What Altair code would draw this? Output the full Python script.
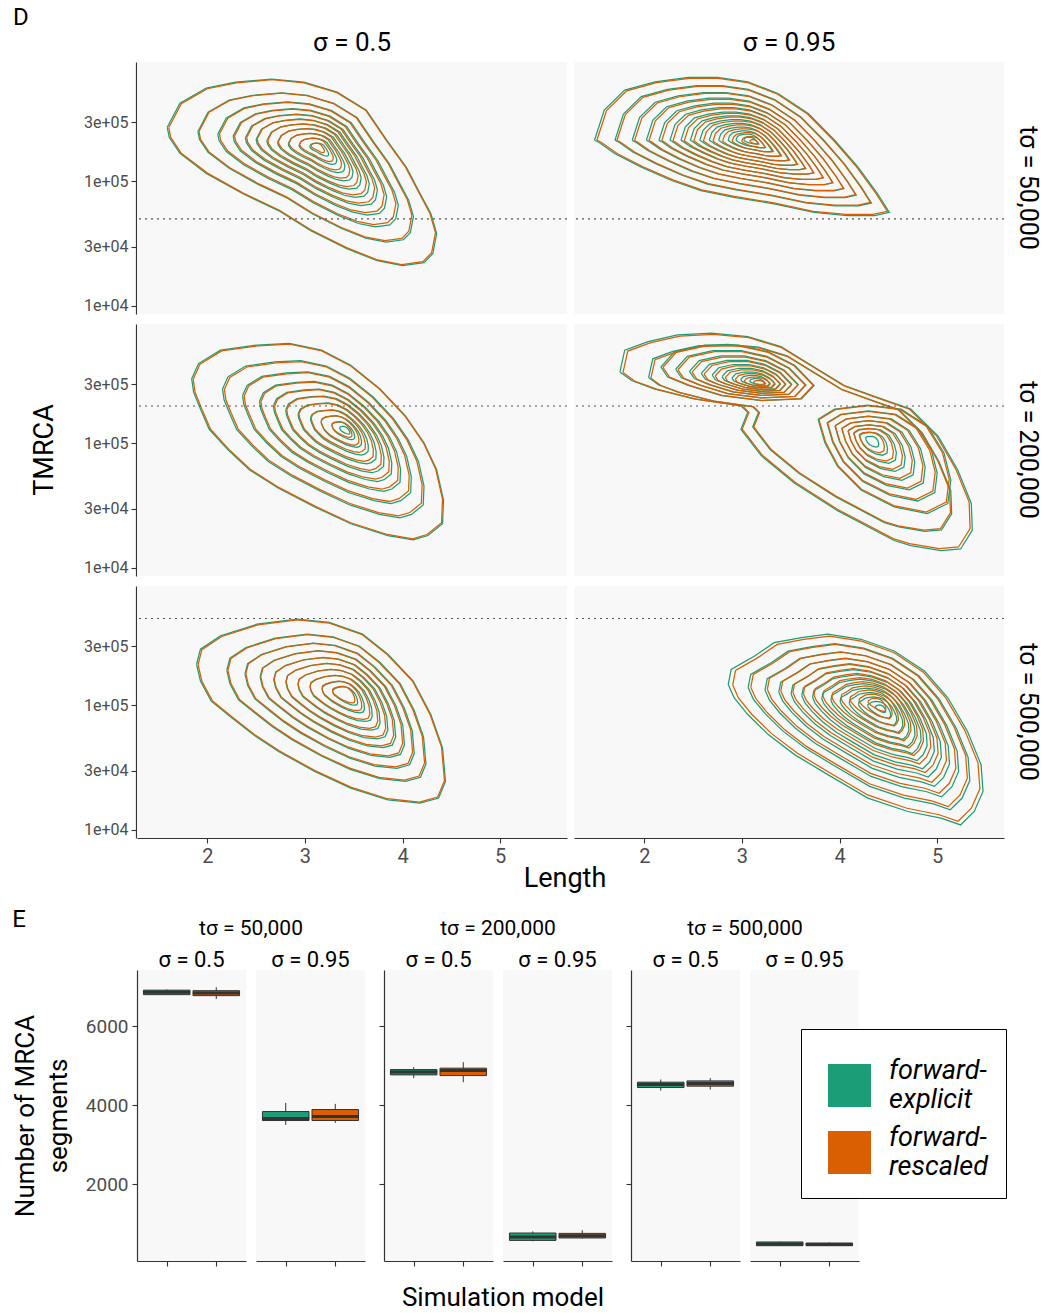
import altair as alt
import pandas as pd

SERIES = ["forward-explicit", "forward-rescaled"]
COLORS = ["#1b9e77", "#d95f02"]
SIGMAS = ["σ = 0.5", "σ = 0.95"]
TSIGS = ["tσ = 50,000", "tσ = 200,000", "tσ = 500,000"]
T_SPLIT = [50000, 200000, 500000]

# ---- contour outlines: x = Length, L = log10(T_MRCA)
TL_X = [1.59, 1.72, 1.99, 2.29, 2.66, 2.99, 3.33, 3.63, 3.84, 4.04, 4.18, 4.29, 4.35, 4.31, 4.22, 4.00, 3.74, 3.43, 3.06, 2.73, 2.36, 1.99, 1.72, 1.61]
TL_L = [5.435, 5.629, 5.750, 5.798, 5.823, 5.798, 5.718, 5.573, 5.331, 5.113, 4.903, 4.742, 4.581, 4.419, 4.347, 4.323, 4.363, 4.460, 4.605, 4.766, 4.903, 5.065, 5.226, 5.355]
TL_PEAK_E = [3.16, 5.27]
TL_PEAK_R = [3.14, 5.28]
TL_LEV_E = [1.0, 0.80, 0.67, 0.57, 0.49, 0.42, 0.35, 0.28, 0.21, 0.14, 0.07]
TL_LEV_R = [0.99, 0.79, 0.655, 0.555, 0.475, 0.405, 0.335, 0.265, 0.195, 0.125, 0.05]

TR_X = [1.49, 1.59, 1.80, 2.11, 2.45, 2.75, 3.06, 3.37, 3.68, 3.95, 4.19, 4.39, 4.51, 4.36, 4.08, 3.74, 3.33, 2.92, 2.58, 2.28, 1.97, 1.70, 1.53]
TR_L = [5.331, 5.573, 5.734, 5.801, 5.836, 5.836, 5.801, 5.707, 5.546, 5.331, 5.115, 4.900, 4.752, 4.726, 4.726, 4.752, 4.820, 4.873, 4.927, 5.008, 5.115, 5.223, 5.317]
TR_PEAK_E = [3.10, 5.33]
TR_PEAK_R = [3.13, 5.32]
TR_LEV_E = [1.0, 0.87, 0.76, 0.67, 0.59, 0.52, 0.45, 0.39, 0.33, 0.27, 0.21, 0.15, 0.10, 0.05]
TR_LEV_R = [0.985, 0.86, 0.75, 0.66, 0.58, 0.51, 0.44, 0.38, 0.32, 0.26, 0.20, 0.14, 0.08, 0.03]

ML_X = [1.84, 1.91, 2.135, 2.51, 2.84, 3.17, 3.47, 3.77, 4.03, 4.22, 4.35, 4.42, 4.41, 4.26, 4.11, 3.85, 3.47, 3.10, 2.73, 2.43, 2.21, 2.02, 1.93, 1.86]
ML_L = [5.520, 5.642, 5.750, 5.791, 5.805, 5.750, 5.628, 5.439, 5.222, 5.006, 4.789, 4.545, 4.355, 4.260, 4.225, 4.260, 4.355, 4.490, 4.640, 4.789, 4.951, 5.114, 5.276, 5.412]
ML_PEAK_E = [3.42, 5.11]
ML_PEAK_R = [3.40, 5.12]
ML_LEV_E = [1.0, 0.80, 0.67, 0.56, 0.47, 0.39, 0.31, 0.23, 0.16, 0.09, 0.04]
ML_LEV_R = [0.99, 0.785, 0.655, 0.545, 0.455, 0.375, 0.295, 0.215, 0.15, 0.08]

MR_X = [1.75, 1.80, 2.04, 2.34, 2.69, 3.06, 3.40, 3.71, 4.05, 4.43, 4.73, 5.01, 5.21, 5.35, 5.36, 5.24, 5.04, 4.73, 4.56, 3.98, 3.54, 3.20, 2.99, 3.06, 2.99, 2.51, 2.10, 1.87]
MR_L = [5.575, 5.750, 5.819, 5.872, 5.886, 5.859, 5.778, 5.628, 5.466, 5.358, 5.276, 5.059, 4.789, 4.518, 4.301, 4.152, 4.138, 4.179, 4.220, 4.460, 4.680, 4.900, 5.114, 5.250, 5.303, 5.358, 5.439, 5.506]
MR_MID_E = [3.85, 5.25]
MR_MID_R = [3.87, 5.24]
MR_LEV_E = [1.0, 0.86]
MR_LEV_R = [0.985, 0.85]
MRU_X = [2.17, 2.31, 2.62, 2.96, 3.27, 3.54, 3.74, 3.61, 3.20, 2.79, 2.45, 2.24]
MRU_L = [5.615, 5.737, 5.791, 5.791, 5.737, 5.628, 5.466, 5.358, 5.344, 5.385, 5.466, 5.534]
MRU_PEAK_E = [3.18, 5.49]
MRU_PEAK_R = [3.20, 5.48]
MRU_LEV_E = [1.0, 0.85, 0.71, 0.59, 0.48, 0.38, 0.28, 0.19, 0.10]
MRU_LEV_R = [0.98, 0.83, 0.69, 0.57, 0.46, 0.36, 0.26, 0.17, 0.08]
MRL_X = [3.78, 3.95, 4.29, 4.63, 4.90, 5.07, 5.14, 5.11, 4.90, 4.56, 4.22, 3.98, 3.85]
MRL_L = [5.195, 5.276, 5.309, 5.276, 5.141, 4.924, 4.707, 4.518, 4.437, 4.490, 4.626, 4.815, 5.006]
MRL_PEAK_E = [4.32, 5.03]
MRL_PEAK_R = [4.30, 5.04]
MRL_LEV_E = [1.0, 0.83, 0.68, 0.55, 0.43, 0.32, 0.21, 0.10]
MRL_LEV_R = [0.98, 0.81, 0.66, 0.53, 0.41, 0.30, 0.19]

BL_X = [1.89, 1.93, 2.135, 2.51, 2.92, 3.25, 3.59, 3.85, 4.11, 4.29, 4.41, 4.44, 4.37, 4.18, 3.85, 3.47, 3.10, 2.73, 2.47, 2.25, 2.04, 1.93]
BL_L = [5.331, 5.452, 5.559, 5.653, 5.694, 5.667, 5.573, 5.411, 5.196, 4.927, 4.659, 4.389, 4.256, 4.215, 4.242, 4.336, 4.470, 4.631, 4.766, 4.901, 5.035, 5.196]
BL_PEAK_E = [3.44, 5.09]
BL_PEAK_R = [3.42, 5.10]
BL_LEV_E = [1.0, 0.80, 0.68, 0.58, 0.49, 0.41, 0.33, 0.25, 0.17, 0.10]
BL_LEV_R = [0.99, 0.79, 0.67, 0.57, 0.48, 0.40, 0.32, 0.24, 0.16, 0.09]

BR_X = [2.86, 2.89, 3.13, 3.33, 3.61, 3.88, 4.22, 4.56, 4.87, 5.11, 5.31, 5.45, 5.47, 5.38, 5.24, 5.04, 4.70, 4.29, 3.88, 3.54, 3.27, 3.06, 2.92]
BR_L = [5.169, 5.290, 5.398, 5.505, 5.546, 5.573, 5.532, 5.438, 5.277, 5.062, 4.793, 4.524, 4.309, 4.148, 4.040, 4.094, 4.148, 4.256, 4.444, 4.605, 4.766, 4.927, 5.062]
BR_PEAK_E = [4.43, 4.98]
BR_PEAK_R = [4.40, 5.02]
BR_LEV_E = [1.0, 0.87, 0.76, 0.67, 0.59, 0.52, 0.45, 0.39, 0.33, 0.27, 0.21, 0.15, 0.09, 0.04]
BR_LEV_R = [0.97, 0.85, 0.74, 0.65, 0.57, 0.50, 0.43, 0.37, 0.31, 0.25, 0.19, 0.13, 0.07]

# ---- boxplot summaries (Number of MRCA segments)
BOX_TSIG = [TSIGS[0]] * 4 + [TSIGS[1]] * 4 + [TSIGS[2]] * 4
BOX_SIG = [SIGMAS[0], SIGMAS[0], SIGMAS[1], SIGMAS[1]] * 3
BOX_SERIES = SERIES * 6
BOX_LO = [6800, 6690, 3500, 3552, 4684, 4582, 550, 620, 4370, 4397, 430, 430]
BOX_Q1 = [6800, 6775, 3610, 3610, 4767, 4749, 572, 633, 4446, 4481, 438, 438]
BOX_MED = [6860, 6840, 3660, 3711, 4840, 4880, 660, 690, 4520, 4550, 480, 470]
BOX_Q3 = [6914, 6901, 3838, 3889, 4901, 4937, 759, 750, 4582, 4615, 532, 506]
BOX_HI = [6930, 6987, 4057, 4032, 4962, 5089, 800, 830, 4650, 4684, 540, 520]

CONTOURS = [
    (TSIGS[0], SIGMAS[0], "a", TL_X, TL_L, TL_PEAK_E, TL_LEV_E, TL_PEAK_R, TL_LEV_R),
    (TSIGS[0], SIGMAS[1], "a", TR_X, TR_L, TR_PEAK_E, TR_LEV_E, TR_PEAK_R, TR_LEV_R),
    (TSIGS[1], SIGMAS[0], "a", ML_X, ML_L, ML_PEAK_E, ML_LEV_E, ML_PEAK_R, ML_LEV_R),
    (TSIGS[1], SIGMAS[1], "a", MR_X, MR_L, MR_MID_E, MR_LEV_E, MR_MID_R, MR_LEV_R),
    (TSIGS[1], SIGMAS[1], "u", MRU_X, MRU_L, MRU_PEAK_E, MRU_LEV_E, MRU_PEAK_R, MRU_LEV_R),
    (TSIGS[1], SIGMAS[1], "l", MRL_X, MRL_L, MRL_PEAK_E, MRL_LEV_E, MRL_PEAK_R, MRL_LEV_R),
    (TSIGS[2], SIGMAS[0], "a", BL_X, BL_L, BL_PEAK_E, BL_LEV_E, BL_PEAK_R, BL_LEV_R),
    (TSIGS[2], SIGMAS[1], "a", BR_X, BR_L, BR_PEAK_E, BR_LEV_E, BR_PEAK_R, BR_LEV_R),
]

rows = []


def add_rings(tsig, sig, tag, px, pl, peak, levels, series):
    n = len(px)
    for k, s in enumerate(levels):
        rid = f"{tsig}|{sig}|{series}|{tag}|{k}"
        for i in range(n + 1):
            j = i % n
            xv = peak[0] + s * (px[j] - peak[0])
            lv = peak[1] + s * (pl[j] - peak[1])
            rows.append(dict(kind="line", tsig=tsig, sig=sig, series=series,
                             ring=rid, ord=i, x=xv, T=10 ** lv))


for (ts, sg, tag, px, pl, pe, le, pr, lr) in CONTOURS:
    add_rings(ts, sg, tag, px, pl, pe, le, SERIES[0])
    add_rings(ts, sg, tag, px, pl, pr, lr, SERIES[1])

for ti, ts in enumerate(TSIGS):
    for sg in SIGMAS:
        rows.append(dict(kind="rule", tsig=ts, sig=sg, series="", ring="",
                         ord=0, x=None, T=T_SPLIT[ti]))

cdf = pd.DataFrame(rows)

AX_COL = "#333333"
LAB_COL = "#4d4d4d"

xs = alt.Scale(domain=[1.28, 5.685], nice=False, zero=False)
ys = alt.Scale(type="log", domain=[8610, 912000], nice=False)
xax = alt.Axis(values=[2, 3, 4, 5], format="d", title=None, labelFontSize=20,
               labelColor=LAB_COL, tickSize=5, labelPadding=3, grid=False)
yax = alt.Axis(values=[10000, 30000, 100000, 300000],
               labelExpr="replace(format(datum.value, '.0e'), 'e+', 'e+0')",
               title=None, labelFontSize=16, labelColor=LAB_COL,
               tickSize=5, labelPadding=3, grid=False)


def line_layer(series, color):
    return alt.Chart().transform_filter(
        f"datum.kind == 'line' && datum.series == '{series}'"
    ).mark_line(color=color, strokeWidth=1.25).encode(
        x=alt.X("x:Q", scale=xs, axis=xax),
        y=alt.Y("T:Q", scale=ys, axis=yax),
        detail="ring:N",
        order="ord:Q",
    )


rule = alt.Chart().transform_filter("datum.kind == 'rule'").mark_rule(
    color="#555555", strokeDash=[2, 4], strokeWidth=1.2
).encode(y=alt.Y("T:Q"))

Dfacet = alt.layer(line_layer(SERIES[0], COLORS[0]), line_layer(SERIES[1], COLORS[1]),
                   rule, data=cdf).properties(width=430, height=252).facet(
    row=alt.Row("tsig:N", sort=TSIGS, title="TMRCA",
                header=alt.Header(labelOrient="right", labelAngle=90,
                                  labelFontSize=25, labelColor="black",
                                  labelPadding=10, labelAlign="center",
                                  titleOrient="left", titleFontSize=27,
                                  titleFontWeight="normal", titleColor="black",
                                  titlePadding=14)),
    column=alt.Column("sig:N", sort=SIGMAS, title=None,
                      header=alt.Header(labelFontSize=26, labelColor="black",
                                        labelPadding=6)),
    spacing={"row": 10, "column": 5},
    title=alt.TitleParams("D", anchor="start", fontSize=24, fontWeight="normal",
                          color="black", offset=0, dx=-18),
)

D = alt.vconcat(Dfacet).properties(
    title=alt.TitleParams("Length", orient="bottom", anchor="start", frame="group",
                          align="center", dx=428, fontSize=27,
                          fontWeight="normal", color="black", offset=0))

# ---- E: boxplots
bdf = pd.DataFrame(dict(tsig=BOX_TSIG, sig=BOX_SIG, series=BOX_SERIES, lo=BOX_LO,
                        q1=BOX_Q1, med=BOX_MED, q3=BOX_Q3, hi=BOX_HI))
bdf["pos"] = [SERIES.index(s) + 1 for s in bdf["series"]]
bdf["xl"] = bdf["pos"] - 0.47
bdf["xr"] = bdf["pos"] + 0.47

ysE = alt.Scale(domain=[50, 7425], nice=False, zero=False)
xsE = alt.Scale(domain=[0.4, 2.6], nice=False, zero=False)


def box_panel(gi, si, legend=False):
    d = bdf[(bdf.tsig == TSIGS[gi]) & (bdf.sig == SIGMAS[si])]
    if si == 0:
        if gi == 0:
            yaxE = alt.Axis(values=[2000, 4000, 6000], labels=True, format="d",
                            title=["Number of MRCA", "segments"], titleFontSize=26,
                            titleLineHeight=33,
                            titleFontWeight="normal", titleColor="black",
                            labelFontSize=19, labelColor=LAB_COL, tickSize=5,
                            labelPadding=4, titlePadding=14, grid=False)
        else:
            yaxE = alt.Axis(values=[2000, 4000, 6000], labels=False, title=None,
                            tickSize=5, grid=False)
    else:
        yaxE = None
    xaxE = alt.Axis(values=[1, 2], labels=False, title=None, tickSize=5, grid=False)
    base = alt.Chart(d)
    wh = base.mark_rule(color=AX_COL, strokeWidth=1).encode(
        x=alt.X("pos:Q", scale=xsE, axis=xaxE),
        y=alt.Y("lo:Q", scale=ysE, axis=yaxE),
        y2="hi:Q",
    )
    if legend:
        fill = alt.Color("series:N", scale=alt.Scale(domain=SERIES, range=COLORS),
                         legend=alt.Legend(
                             title=" ", titleFontSize=14, titlePadding=3,
                             orient="none", legendX=51, legendY=59,
                             symbolType="square", symbolSize=1849,
                             symbolStrokeWidth=0, symbolOpacity=1, symbolOffset=9,
                             labelFontSize=27, labelFontStyle="italic",
                             labelColor="black", labelLimit=400, labelOffset=18,
                             labelBaseline="line-bottom",
                             labelExpr="datum.label == 'forward-explicit' ? ['forward-', 'explicit'] : ['forward-', 'rescaled']",
                             strokeColor="black", fillColor="white", padding=18,
                             rowPadding=10))
    else:
        fill = alt.condition(f"datum.series == '{SERIES[0]}'",
                             alt.value(COLORS[0]), alt.value(COLORS[1]))
    bx = base.mark_rect(stroke=AX_COL, strokeWidth=1).encode(
        x="xl:Q", x2="xr:Q", y="q1:Q", y2="q3:Q", color=fill)
    md = base.mark_rule(color=AX_COL, strokeWidth=3).encode(
        x="xl:Q", x2="xr:Q", y="med:Q")
    return alt.layer(wh, bx, md).properties(
        width=109, height=291,
        title=alt.TitleParams(SIGMAS[si], fontSize=22, fontWeight="normal",
                              color="black", offset=-2))


groups = []
for gi in range(3):
    g = alt.hconcat(box_panel(gi, 0), box_panel(gi, 1, legend=(gi == 2)),
                    spacing=10).properties(
        title=alt.TitleParams(TSIGS[gi], fontSize=21, fontWeight="normal",
                              color="black", offset=10, anchor="start",
                              frame="group", align="center", dx=114))
    g = g.resolve_scale(color="independent").resolve_legend(color="independent")
    groups.append(g)

groups[1] = alt.vconcat(groups[1]).properties(
    title=alt.TitleParams("Simulation model", orient="bottom", anchor="start",
                          frame="group", align="center", dx=119, fontSize=26,
                          fontWeight="normal", color="black", offset=18)
).resolve_scale(color="independent").resolve_legend(color="independent")

Erow = alt.hconcat(*groups, spacing=13).properties(
    title=alt.TitleParams("E", anchor="start", fontSize=24, fontWeight="normal",
                          color="black", offset=-14)
).resolve_scale(color="independent").resolve_legend(color="independent")

chart = alt.vconcat(D, Erow, spacing=16).resolve_scale(
    color="independent").resolve_legend(color="independent").configure(
    font="Roboto", padding={"left": 12, "top": 6, "right": 4, "bottom": 2}
).configure_view(stroke=None, fill="#f8f8f8").configure_axis(
    domainColor=AX_COL, tickColor=AX_COL, domainWidth=1.2, tickWidth=1.1,
    labelFont="Roboto", titleFont="Roboto"
).configure_title(font="Roboto").configure_header(labelFont="Roboto",
                                                   titleFont="Roboto")

chart.save("out.html", embed_options={"renderer": "svg", "actions": False})
